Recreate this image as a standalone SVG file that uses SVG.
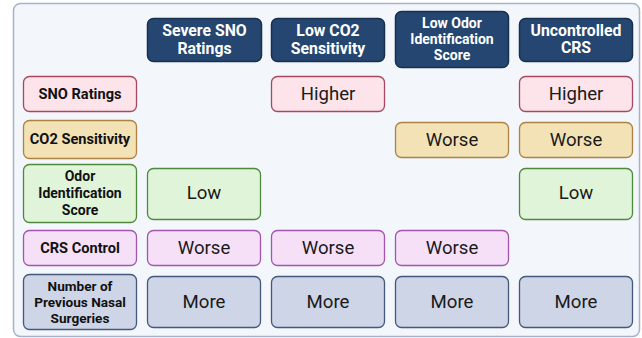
<svg xmlns="http://www.w3.org/2000/svg" width="642" height="338" viewBox="0 0 642 338">
<style>
text{font-family:Roboto,"Liberation Sans",sans-serif;text-anchor:middle;dominant-baseline:central}
.bg{fill:#f3f6fb;stroke:#a9b2cc;stroke-width:1.5}
.hd rect{fill:#254670;stroke:#17304f;stroke-width:1.5}
.hd text{fill:#fff;font-weight:bold;font-size:15.8px}
.lb text{fill:#111;font-weight:bold;font-size:14.6px}
.lb text.m{font-size:14px}
.lb text.s{font-size:13.6px}
.cv text{fill:#1a1a1a;font-size:18.6px}
.pk{fill:#fde4ea;stroke:#a8475f;stroke-width:1.3}
.yl{fill:#f2e2b6;stroke:#ad8244;stroke-width:1.3}
.gr{fill:#e0f4d9;stroke:#4e8a3e;stroke-width:1.3}
.pu{fill:#f5e0f8;stroke:#a355b0;stroke-width:1.3}
.bl{fill:#ced5e7;stroke:#44587c;stroke-width:1.3}
</style>
<rect class="bg" x="13.5" y="3.5" width="626" height="333" rx="7"/>
<g id="headers" class="hd">
<g id="h1"><rect x="147.5" y="18.5" width="114" height="43" rx="6"/><text x="204.5" y="30.5">Severe SNO</text><text x="204.5" y="48">Ratings</text></g>
<g id="h2"><rect x="271.5" y="18.5" width="113" height="43" rx="6"/><text x="328" y="30.5">Low CO2</text><text x="328" y="48">Sensitivity</text></g>
<g id="h3"><rect x="395.5" y="11.5" width="113" height="56" rx="6"/><text x="452" y="22.5" style="font-size:14px">Low Odor</text><text x="452" y="38.5" style="font-size:14px">Identification</text><text x="452" y="54.5" style="font-size:14px">Score</text></g>
<g id="h4"><rect x="519.5" y="18.5" width="113" height="43" rx="6"/><text x="576" y="30">Uncontrolled</text><text x="576" y="47.5">CRS</text></g>
</g>
<g id="labels" class="lb">
<g id="l1"><rect class="pk" x="23.5" y="76.5" width="113" height="35" rx="6"/><text x="80" y="93.5">SNO Ratings</text></g>
<g id="l2"><rect class="yl" x="23.5" y="120.5" width="113" height="38" rx="6"/><text x="80" y="139">CO2 Sensitivity</text></g>
<g id="l3"><rect class="gr" x="23.5" y="164.5" width="113" height="58" rx="6"/><text class="m" x="80" y="176">Odor</text><text class="m" x="80" y="193">Identification</text><text class="m" x="80" y="210">Score</text></g>
<g id="l4"><rect class="pu" x="23.5" y="230.5" width="113" height="35" rx="6"/><text x="80" y="247.5">CRS Control</text></g>
<g id="l5"><rect class="bl" x="23.5" y="274.5" width="113" height="55" rx="6"/><text class="s" x="80" y="286">Number of</text><text class="s" x="80" y="302">Previous Nasal</text><text class="s" x="80" y="318">Surgeries</text></g>
</g>
<g id="cells" class="cv">
<g id="c-higher-2"><rect class="pk" x="271.5" y="76.5" width="113" height="35" rx="6"/><text x="328" y="93.5">Higher</text></g>
<g id="c-higher-4"><rect class="pk" x="519.5" y="76.5" width="113" height="35" rx="6"/><text x="576" y="93.5">Higher</text></g>
<g id="c-worse-co2-3"><rect class="yl" x="395.5" y="122.5" width="113" height="35" rx="6"/><text x="452" y="139.5">Worse</text></g>
<g id="c-worse-co2-4"><rect class="yl" x="519.5" y="122.5" width="113" height="35" rx="6"/><text x="576" y="139.5">Worse</text></g>
<g id="c-low-1"><rect class="gr" x="147.5" y="168.5" width="113" height="51" rx="6"/><text x="204" y="193">Low</text></g>
<g id="c-low-4"><rect class="gr" x="519.5" y="168.5" width="113" height="51" rx="6"/><text x="576" y="193">Low</text></g>
<g id="c-crs-1"><rect class="pu" x="147.5" y="230.5" width="113" height="35" rx="6"/><text x="204" y="247.5">Worse</text></g>
<g id="c-crs-2"><rect class="pu" x="271.5" y="230.5" width="113" height="35" rx="6"/><text x="328" y="247.5">Worse</text></g>
<g id="c-crs-3"><rect class="pu" x="395.5" y="230.5" width="113" height="35" rx="6"/><text x="452" y="247.5">Worse</text></g>
<g id="c-more-1"><rect class="bl" x="147.5" y="276.5" width="113" height="51" rx="6"/><text x="204" y="301.5">More</text></g>
<g id="c-more-2"><rect class="bl" x="271.5" y="276.5" width="113" height="51" rx="6"/><text x="328" y="301.5">More</text></g>
<g id="c-more-3"><rect class="bl" x="395.5" y="276.5" width="113" height="51" rx="6"/><text x="452" y="301.5">More</text></g>
<g id="c-more-4"><rect class="bl" x="519.5" y="276.5" width="113" height="51" rx="6"/><text x="576" y="301.5">More</text></g>
</g>
<g id="connectors"/>
</svg>
